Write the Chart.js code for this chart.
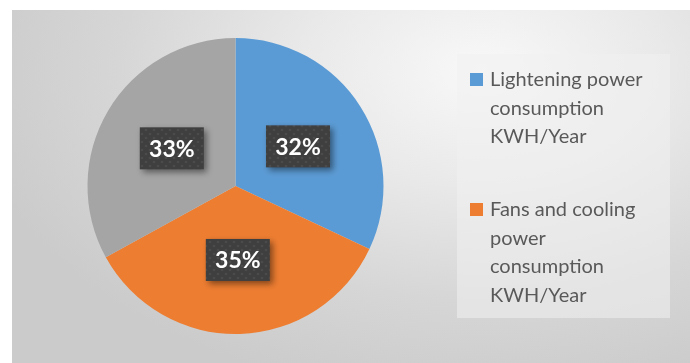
<!DOCTYPE html>
<html>
<head>
<meta charset="utf-8">
<script src="https://cdn.jsdelivr.net/npm/chart.js@4.4.1/dist/chart.umd.min.js"></script>
<style>
  html, body { margin: 0; padding: 0; background: #ffffff; }
  #wrap { position: relative; width: 690px; height: 363px; overflow: hidden; }
  #panel {
    position: absolute; left: 12px; top: 10px; right: 0; bottom: 0;
    background: radial-gradient(ellipse 520px 330px at 470px 60px, #f8f8f8 0%, #e9e9e9 35%, #d6d6d6 70%, #cbcbcb 100%);
  }
  #myChart { position: absolute; left: 0; top: 0; }
  #legend {
    position: absolute; left: 457px; top: 54px; width: 213px; height: 264px;
    background: rgba(240, 240, 240, 0.55);
    font-family: Lato, "Open Sans", sans-serif; font-size: 20px; color: #595959;
  }
  .item { position: absolute; left: 13px; width: 198px; line-height: 28.5px; }
  .box { position: absolute; left: 0; top: 9px; width: 13px; height: 13px; }
  .txt { margin-left: 20px; white-space: nowrap; }
</style>
</head>
<body>
<div id="wrap">
  <div id="panel"></div>
  <canvas id="myChart" width="690" height="363"></canvas>
  <div id="legend"></div>
</div>
<script>
// chart data
const categories = [
    'Lightening power consumption KWH/Year',
    'Fans and cooling power consumption KWH/Year',
    'Other power consumption KWH/Year'
];
const shares = [32, 35, 33];
const sliceColors = ['#5b9bd5', '#ed7d31', '#a5a5a5'];
const legendLines = [
    ['Lightening power', 'consumption', 'KWH/Year'],
    ['Fans and cooling', 'power', 'consumption', 'KWH/Year']
];
const legendTops = [10, 140];  // only two entries are visible in the original legend

// dotted dark fill for the label boxes
const makePattern = () => {
    const c = document.createElement('canvas');
    c.width = 8; c.height = 8;
    const g = c.getContext('2d');
    g.fillStyle = '#3f3f3f';
    g.fillRect(0, 0, 8, 8);
    g.fillStyle = '#4b4b4b';
    g.beginPath(); g.arc(2, 2, 1.3, 0, Math.PI * 2); g.fill();
    g.beginPath(); g.arc(6, 6, 1.3, 0, Math.PI * 2); g.fill();
    return g.createPattern(c, 'repeat');
};

const boxLabels = {
    id: 'boxLabels',
    afterDatasetsDraw(chart) {
        const ctx = chart.ctx;
        const meta = chart.getDatasetMeta(0);
        const pattern = makePattern();
        meta.data.forEach((arc, i) => {
            const pos = arc.tooltipPosition();
            const w = 64, h = 42;
            const x = pos.x - w / 2, y = pos.y - h / 2;
            ctx.save();
            ctx.shadowColor = 'rgba(0,0,0,0.45)';
            ctx.shadowBlur = 6;
            ctx.shadowOffsetX = 3;
            ctx.shadowOffsetY = 3;
            ctx.fillStyle = pattern;
            ctx.fillRect(x, y, w, h);
            ctx.restore();
            ctx.save();
            ctx.fillStyle = '#ffffff';
            ctx.font = 'bold 23px Lato, "Open Sans", sans-serif';
            ctx.textAlign = 'center';
            ctx.textBaseline = 'middle';
            ctx.fillText(shares[i] + '%', pos.x, pos.y + 1);
            ctx.restore();
        });
    }
};

const ctx = document.getElementById('myChart').getContext('2d');
const myChart = new Chart(ctx, {
    type: 'pie',
    data: {
        labels: categories,
        datasets: [{
            data: shares,
            backgroundColor: sliceColors,
            borderWidth: 0
        }]
    },
    options: {
        responsive: false,
        animation: false,
        layout: {
            padding: { left: 87.5, right: 306.5, top: 38, bottom: 29 }
        },
        plugins: {
            legend: { display: false },
            tooltip: { enabled: false }
        }
    },
    plugins: [boxLabels]
});

// html legend with the same wrapping as the original
const legendEl = document.getElementById('legend');
legendLines.forEach((lines, i) => {
    const item = document.createElement('div');
    item.className = 'item';
    item.style.top = legendTops[i] + 'px';
    const box = document.createElement('div');
    box.className = 'box';
    box.style.background = sliceColors[i];
    const txt = document.createElement('div');
    txt.className = 'txt';
    txt.innerHTML = lines.join('<br>');
    item.appendChild(box);
    item.appendChild(txt);
    legendEl.appendChild(item);
});
</script>
</body>
</html>
